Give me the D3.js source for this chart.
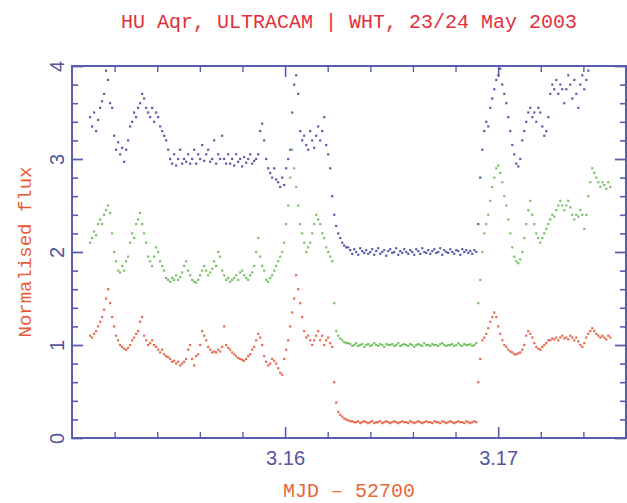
<!DOCTYPE html>
<html>
<head>
<meta charset="utf-8">
<script src="https://cdn.jsdelivr.net/npm/d3@7"></script>
<style>
  html, body { margin: 0; padding: 0; background: #ffffff; }
  svg { display: block; }
</style>
</head>
<body>
<svg id="chart" width="627" height="503"></svg>
<script>
// Labels
const titleText = "HU Aqr, ULTRACAM | WHT, 23/24 May 2003";
const xLabelText = "MJD \u2013 52700";
const yLabelText = "Normalised flux";

// Tick values and labels
const xMajorTicks = [3.16, 3.17];
const xTickLabels = ["3.16", "3.17"];
const yMajorTicks = [0, 1, 2, 3, 4];
const yTickLabels = ["0", "1", "2", "3", "4"];

// Time of first exposure (MJD - 52700) and exposure cadence (days)
const t0 = 3.15085;
const cadence = 0.0000939;

// Normalised flux per exposure, one array per ULTRACAM band (offset for display)
const fluxBlue = [
  3.45,3.35,3.50,3.30,3.42,3.55,3.62,3.70,3.95,3.85,
  3.60,3.55,3.25,3.10,3.18,3.05,3.12,2.97,3.10,3.20,
  3.35,3.40,3.50,3.45,3.55,3.60,3.70,3.65,3.55,3.50,
  3.45,3.55,3.40,3.50,3.45,3.35,3.30,3.25,3.20,3.10,
  3.00,2.95,3.05,2.93,3.00,3.10,2.95,3.00,2.97,3.05,
  2.95,3.00,3.10,2.95,3.05,3.00,3.15,2.98,3.05,3.10,
  2.97,3.00,3.20,2.95,3.05,3.00,3.25,3.00,2.95,3.05,
  2.95,3.00,2.93,3.05,2.97,3.00,2.92,3.02,2.96,3.00,
  3.05,2.95,2.98,3.00,3.05,3.30,3.38,3.20,3.00,2.90,
  2.85,2.80,2.90,2.78,2.75,2.70,2.80,2.72,2.90,3.00,
  3.10,3.50,3.80,3.90,3.70,3.30,3.20,3.25,3.15,3.10,
  3.30,3.20,3.12,3.25,3.35,3.20,3.30,3.45,3.15,3.05,
  2.90,2.60,2.40,2.28,2.20,2.15,2.10,2.07,2.05,2.05,
  2.02,1.98,2.03,2.00,1.97,2.04,2.01,1.99,2.02,1.98,
  2.00,2.03,1.97,2.01,2.04,1.98,2.00,2.02,1.96,2.01,
  2.03,1.99,2.00,2.04,1.97,2.01,1.99,2.03,2.00,1.98,
  2.02,2.00,1.97,2.03,2.01,1.98,2.04,2.00,1.99,2.02,
  1.98,2.01,2.03,1.99,2.00,2.04,1.97,2.02,2.00,1.99,
  2.03,2.00,1.98,2.02,2.01,1.97,2.03,2.00,2.02,1.99,
  2.01,1.98,2.02,2.00,2.30,2.80,3.10,3.30,3.40,3.35,
  3.55,3.65,3.75,3.85,3.90,3.97,3.80,3.70,3.60,3.45,
  3.30,3.15,3.05,2.95,2.92,3.00,3.20,3.30,3.40,3.50,
  3.55,3.45,3.50,3.40,3.55,3.50,3.35,3.25,3.30,3.45,
  3.70,3.80,3.75,3.85,3.70,3.80,3.75,3.60,3.75,3.90,
  3.80,3.65,3.85,3.70,3.55,3.80,3.90,3.75,3.85,3.95,
  4.05,4.10,4.00,4.15,4.10,4.20,4.12,4.08,4.15,4.10,
  4.12
];
const fluxGreen = [
  2.10,2.15,2.22,2.18,2.30,2.35,2.30,2.40,2.45,2.50,
  2.42,2.20,2.00,1.90,1.80,1.78,1.85,1.80,1.90,1.95,
  2.10,2.20,2.15,2.30,2.35,2.42,2.30,2.20,2.10,1.95,
  1.90,1.85,1.95,2.05,2.00,1.90,1.85,1.80,1.72,1.70,
  1.68,1.72,1.70,1.75,1.70,1.73,1.78,1.85,1.90,1.80,
  1.75,1.70,1.68,1.67,1.70,1.75,1.80,1.85,1.80,1.75,
  1.78,1.82,1.90,1.85,2.00,1.95,1.80,1.75,1.70,1.72,
  1.68,1.70,1.72,1.75,1.70,1.78,1.80,1.75,1.72,1.70,
  1.75,1.78,1.85,2.00,2.15,1.95,1.85,1.80,1.70,1.68,
  1.72,1.75,1.80,1.85,1.90,1.95,2.00,2.10,2.30,2.50,
  2.80,3.10,2.90,2.70,2.50,2.30,2.20,2.10,2.00,2.05,
  2.10,2.20,2.30,2.40,2.35,2.30,2.20,2.15,2.05,2.00,
  1.95,1.90,1.45,1.15,1.10,1.07,1.05,1.03,1.02,1.02,
  1.01,0.99,1.00,1.02,0.99,1.00,1.01,0.98,1.00,1.01,
  0.99,1.00,1.02,1.00,0.99,1.01,1.00,0.98,1.01,1.00,
  1.00,1.01,0.99,1.00,1.02,0.99,1.00,1.01,1.00,0.99,
  1.01,1.00,0.98,1.00,1.01,1.00,0.99,1.02,1.00,1.00,
  0.99,1.01,1.00,1.00,0.99,1.01,1.02,1.00,0.99,1.00,
  1.00,1.01,0.99,1.00,1.02,1.00,0.99,1.01,1.00,1.00,
  1.01,0.99,1.00,1.02,1.45,1.70,2.00,2.20,2.30,2.40,
  2.55,2.70,2.80,2.90,2.93,2.85,2.75,2.60,2.50,2.35,
  2.20,2.05,1.95,1.90,1.88,1.92,2.00,2.15,2.30,2.45,
  2.55,2.40,2.30,2.20,2.15,2.10,2.15,2.20,2.25,2.30,
  2.35,2.40,2.38,2.45,2.50,2.55,2.50,2.45,2.50,2.55,
  2.48,2.40,2.35,2.40,2.38,2.45,2.40,2.25,2.40,2.60,
  2.75,2.90,2.85,2.80,2.75,2.70,2.75,2.72,2.68,2.75,
  2.70
];
const fluxRed = [
  1.10,1.08,1.12,1.15,1.20,1.25,1.30,1.38,1.50,1.60,
  1.45,1.30,1.20,1.10,1.05,1.00,0.98,0.96,0.95,0.97,
  1.00,1.05,1.08,1.12,1.15,1.25,1.30,1.10,1.05,1.00,
  1.02,1.05,1.00,0.98,0.95,0.92,0.95,0.90,0.88,0.87,
  0.85,0.82,0.83,0.80,0.82,0.78,0.80,0.82,0.85,0.95,
  1.00,0.85,0.78,0.88,0.90,1.00,1.15,1.10,1.05,0.98,
  0.95,0.92,0.93,0.92,0.95,0.93,0.98,1.20,1.00,0.97,
  0.95,0.92,0.90,0.88,0.86,0.85,0.84,0.83,0.85,0.88,
  0.90,0.95,0.98,1.05,1.12,1.08,1.00,0.88,0.82,0.78,
  0.80,0.85,0.83,0.80,0.75,0.70,0.68,0.85,0.95,1.05,
  1.20,1.35,1.50,1.75,1.60,1.45,1.30,1.15,1.08,1.10,
  1.05,1.00,1.05,1.10,1.15,1.05,1.10,1.00,1.05,1.08,
  1.02,0.98,0.60,0.38,0.28,0.25,0.23,0.21,0.20,0.19,
  0.18,0.18,0.17,0.17,0.18,0.16,0.17,0.18,0.17,0.16,
  0.17,0.18,0.16,0.17,0.17,0.18,0.16,0.17,0.18,0.17,
  0.16,0.17,0.18,0.17,0.16,0.17,0.18,0.17,0.17,0.16,
  0.18,0.17,0.16,0.17,0.18,0.17,0.16,0.17,0.18,0.17,
  0.17,0.16,0.18,0.17,0.17,0.16,0.18,0.17,0.16,0.17,
  0.18,0.17,0.16,0.17,0.18,0.17,0.17,0.16,0.18,0.17,
  0.16,0.17,0.18,0.17,0.60,0.85,1.05,1.08,1.12,1.18,
  1.25,1.30,1.35,1.30,1.20,1.12,1.05,1.00,0.98,0.95,
  0.93,0.92,0.90,0.90,0.91,0.92,0.95,1.00,1.10,1.15,
  1.12,1.08,1.02,0.98,0.96,0.95,0.98,1.00,1.02,1.05,
  1.05,1.07,1.06,1.08,1.05,1.08,1.10,1.07,1.08,1.06,
  1.10,1.08,1.05,1.08,1.04,1.00,0.98,1.02,1.08,1.12,
  1.15,1.18,1.15,1.12,1.10,1.08,1.10,1.08,1.06,1.10,
  1.08
];

// Layout
const plot = { left: 72, right: 626, top: 66, bottom: 438 };
const axisColor = "#5c5cae";
const tickTextColor = "#54549e";
const monoFont = "'Liberation Mono', 'DejaVu Sans Mono', monospace";
const sansFont = "'Liberation Sans', Arial, sans-serif";

const svg = d3.select("#chart");

const x = d3.scaleLinear().domain([3.15, 3.176]).range([plot.left, plot.right]);
const y = d3.scaleLinear().domain([0, 4]).range([plot.bottom, plot.top]);

const xMinor = d3.range(0, 14).map(k => +(3.15 + k * 0.002).toFixed(3))
  .filter(v => !xMajorTicks.includes(v) && v > 3.15 && v < 3.176);
const yMinor = d3.range(0, 21).map(k => +(k * 0.2).toFixed(1))
  .filter(v => !yMajorTicks.includes(v));

// Series points, clipped to the frame
svg.append("defs").append("clipPath").attr("id", "plotClip")
  .append("rect")
  .attr("x", plot.left).attr("y", plot.top)
  .attr("width", plot.right - plot.left).attr("height", plot.bottom - plot.top);

const series = [
  { values: fluxBlue, color: "#3e3e9c" },
  { values: fluxGreen, color: "#5cb844" },
  { values: fluxRed, color: "#e8502c" }
];

const pts = svg.append("g").attr("clip-path", "url(#plotClip)");
series.forEach(s => {
  const data = s.values.map((v, i) => ({ t: t0 + i * cadence, v }));
  pts.append("g").selectAll("rect")
    .data(data)
    .join("rect")
    .attr("x", d => x(d.t) - 1.1)
    .attr("y", d => y(d.v) - 1.1)
    .attr("width", 2.2)
    .attr("height", 2.2)
    .attr("fill", s.color)
    .attr("fill-opacity", 0.85);
});

// Axes with inward ticks on all four sides
function tidy(g, width) {
  g.select(".domain").remove();
  g.selectAll(".tick line").attr("stroke", axisColor).attr("stroke-width", width);
}

// bottom
svg.append("g").attr("transform", `translate(0,${plot.bottom})`)
  .call(d3.axisBottom(x).tickValues(xMinor).tickSize(-6).tickFormat(""))
  .call(g => tidy(g, 1.4));
const xAxisMajor = svg.append("g").attr("transform", `translate(0,${plot.bottom})`)
  .call(d3.axisBottom(x).tickValues(xMajorTicks).tickSize(-11)
    .tickFormat((d, i) => xTickLabels[i]))
  .call(g => tidy(g, 1.6));
xAxisMajor.selectAll(".tick text")
  .attr("y", 27).attr("dy", 0)
  .attr("fill", tickTextColor)
  .style("font-family", sansFont).style("font-size", "20px");

// top
svg.append("g").attr("transform", `translate(0,${plot.top})`)
  .call(d3.axisTop(x).tickValues(xMinor).tickSize(-6).tickFormat(""))
  .call(g => tidy(g, 1.4));
svg.append("g").attr("transform", `translate(0,${plot.top})`)
  .call(d3.axisTop(x).tickValues(xMajorTicks).tickSize(-11).tickFormat(""))
  .call(g => tidy(g, 1.6));

// left
svg.append("g").attr("transform", `translate(${plot.left},0)`)
  .call(d3.axisLeft(y).tickValues(yMinor).tickSize(-6).tickFormat(""))
  .call(g => tidy(g, 1.6));
const yAxisMajor = svg.append("g").attr("transform", `translate(${plot.left},0)`)
  .call(d3.axisLeft(y).tickValues(yMajorTicks).tickSize(-11)
    .tickFormat((d, i) => yTickLabels[i]))
  .call(g => tidy(g, 1.8));
yAxisMajor.selectAll(".tick text")
  .attr("x", 0).attr("dy", 0)
  .attr("transform", "translate(-8,0) rotate(-90)")
  .attr("text-anchor", "middle")
  .attr("fill", tickTextColor)
  .style("font-family", sansFont).style("font-size", "20px");

// right
svg.append("g").attr("transform", `translate(${plot.right},0)`)
  .call(d3.axisRight(y).tickValues(yMinor).tickSize(-6).tickFormat(""))
  .call(g => tidy(g, 1.6));
svg.append("g").attr("transform", `translate(${plot.right},0)`)
  .call(d3.axisRight(y).tickValues(yMajorTicks).tickSize(-11).tickFormat(""))
  .call(g => tidy(g, 1.8));

// frame
svg.append("rect")
  .attr("x", plot.left).attr("y", plot.top)
  .attr("width", plot.right - plot.left).attr("height", plot.bottom - plot.top)
  .attr("fill", "none").attr("stroke", axisColor).attr("stroke-width", 2);

// title and axis labels
const cx = (plot.left + plot.right) / 2;
svg.append("text")
  .attr("x", cx).attr("y", 28)
  .attr("text-anchor", "middle")
  .attr("fill", "#e2303a")
  .style("font-family", monoFont).style("font-size", "20px")
  .text(titleText);

svg.append("text")
  .attr("x", cx).attr("y", 497)
  .attr("text-anchor", "middle")
  .attr("fill", "#e8683a")
  .style("font-family", monoFont).style("font-size", "20px")
  .text(xLabelText);

svg.append("text")
  .attr("transform", `translate(31,${(plot.top + plot.bottom) / 2}) rotate(-90)`)
  .attr("text-anchor", "middle")
  .attr("fill", "#e85a34")
  .style("font-family", monoFont).style("font-size", "19px")
  .text(yLabelText);
</script>
</body>
</html>
